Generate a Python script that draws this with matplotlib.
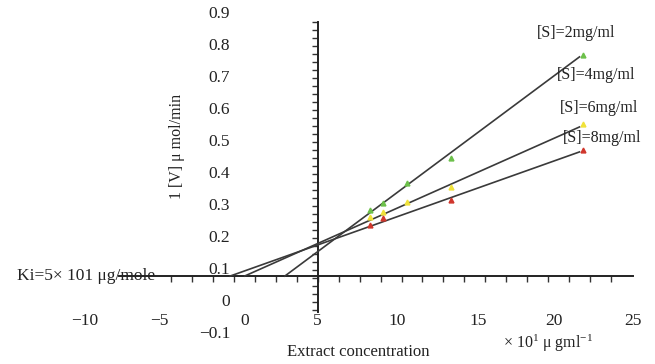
import numpy as np
import matplotlib
matplotlib.use("Agg")
import matplotlib.pyplot as plt

plt.rcParams["font.family"] = ["Liberation Serif", "DejaVu Serif"]
plt.rcParams["mathtext.fontset"] = "custom"
plt.rcParams["mathtext.rm"] = "Liberation Serif"
plt.rcParams["mathtext.it"] = "Liberation Serif:italic"

# --- data (x in x-label units, y in 1/V units) ---
conc = [8.3, 9.1, 10.6, 13.3, 21.5]
v_2mg = [0.288, 0.309, 0.372, 0.450, 0.772]
v_6mg = [0.266, 0.281, 0.312, 0.359, 0.556]
conc_8 = [8.3, 9.1, 13.3, 21.5]
v_8mg = [0.241, 0.262, 0.319, 0.475]

# fitted lines: (x at the x-axis, x at the end) and (y start, y end)
fit_x = {"2": [3.0, 21.3], "6": [0.5, 21.3], "8": [-0.4, 21.3]}
fit_y = {"2": [0.081, 0.766], "6": [0.081, 0.547], "8": [0.081, 0.469]}

series_labels = ["[S]=2mg/ml", "[S]=4mg/ml", "[S]=6mg/ml", "[S]=8mg/ml"]
ytick_vals = [0.9, 0.8, 0.7, 0.6, 0.5, 0.4, 0.3, 0.2, 0.1, 0, -0.1]
ytick_text = ["0.9", "0.8", "0.7", "0.6", "0.5", "0.4", "0.3", "0.2", "0.1", "0", "\u22120.1"]
xtick_text = ["\u221210", "\u22125", "0", "5", "10", "15", "20", "25"]
xtick_pos = [-9.4, -4.8, 0.5, 5.0, 10.0, 15.0, 19.7, 24.6]

AX_X, AX_Y = 5.05, 0.081   # where the drawn axes cross

fig = plt.figure(figsize=(6.55, 3.64), dpi=100)
ax = fig.add_axes([0, 0, 1, 1])
ax.set_xlim(-14.69, 25.99)
ax.set_ylim(-0.1938, 0.9438)
ax.patch.set_alpha(0)

# cross-shaped axes
for s in ("top", "right"):
    ax.spines[s].set_visible(False)
ax.spines["left"].set_position(("data", AX_X))
ax.spines["bottom"].set_position(("data", AX_Y))
ax.spines["left"].set_bounds(-0.032, 0.876)
ax.spines["bottom"].set_bounds(-7.3, 24.6)
for s in ("left", "bottom"):
    ax.spines[s].set_linewidth(1.4)
    ax.spines[s].set_color("#222")
ax.set_xticks(np.arange(AX_X - 1.3 * 7, 24.5, 1.3))
ax.set_yticks(np.arange(-0.025, 0.876, 0.025))
ax.tick_params(direction="out", length=4, width=1.0, color="#333",
               labelbottom=False, labelleft=False)

# fitted lines
for k in ("2", "6", "8"):
    ax.plot(fit_x[k], fit_y[k], color="#3a3a3a", lw=1.2, zorder=3)

# data points
ax.plot(conc, v_2mg, "^", color="#6cc04a", ms=3.5, zorder=4)
ax.plot(conc, v_6mg, "^", color="#f0e23a", ms=3.5, zorder=4)
ax.plot(conc_8, v_8mg, "^", color="#d0362c", ms=3.5, zorder=4)

fs = 12.5
for val, t in zip(ytick_vals, ytick_text):
    ax.text(-0.4, val, t, ha="right", va="center", fontsize=fs, color="#222")
for pos, t in zip(xtick_pos, xtick_text):
    ax.text(pos, -0.059, t, ha="center", va="center", fontsize=fs, color="#222")

label_xy = [(18.66, 0.84), (19.9, 0.709), (20.09, 0.606), (20.28, 0.512)]
for (lx, ly), t in zip(label_xy, series_labels):
    ax.text(lx, ly, t, ha="left", va="center", fontsize=11.5, color="#222")

ax.text(-13.63, 0.081, "Ki=5\u00d7 101 \u03bcg/mole", ha="left", va="center",
        fontsize=fs, color="#222")
ax.text(-3.7, 0.4875, "1 [V] \u03bc mol/min", rotation=90, ha="center",
        va="center", fontsize=11.5, color="#222")
ax.text(7.55, -0.156, "Extract concentration", ha="center", va="center",
        fontsize=12, color="#222")
ax.text(19.35, -0.128, "\u00d7 10$^{1}$ \u03bc gml$^{-1}$", ha="center",
        va="center", fontsize=11.5, color="#222")

fig.savefig("out.png", dpi=100)
